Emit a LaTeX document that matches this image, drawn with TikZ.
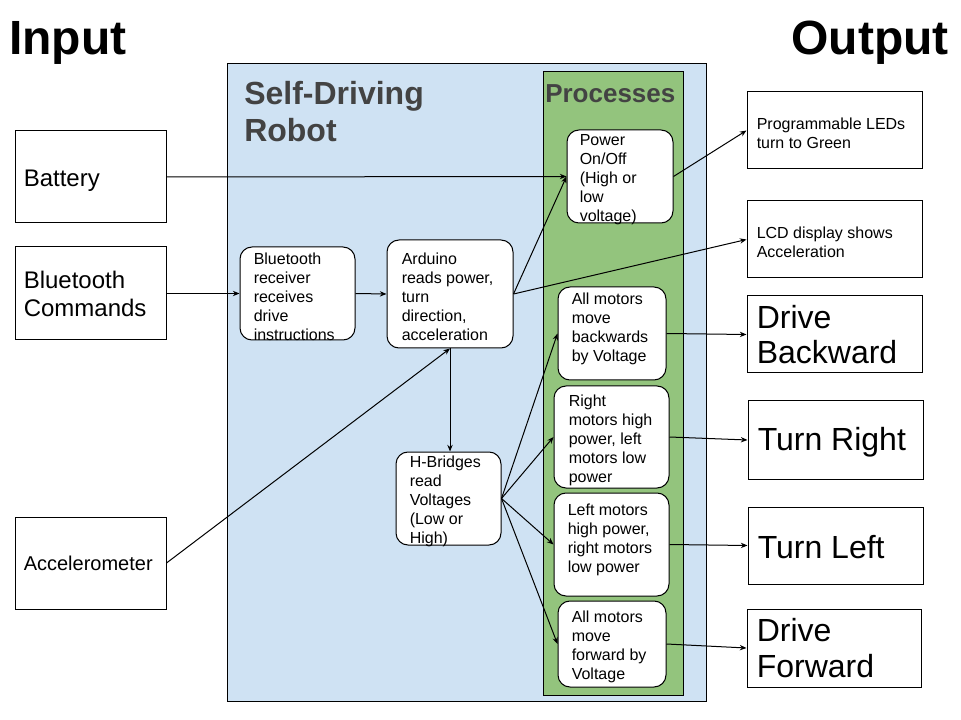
\documentclass[tikz,border=0pt]{standalone}
\usepackage{fontspec}
\setmainfont{Liberation Sans}
\usetikzlibrary{arrows.meta,fit}
\definecolor{robotblue}{HTML}{CFE2F3}
\definecolor{procgreen}{HTML}{93C47D}
\definecolor{headgray}{HTML}{434343}
\begin{document}
\begin{tikzpicture}[x=0.75pt,y=-0.75pt,
  sqbox/.style={draw=black, line width=0.75pt, fill=white, inner sep=0pt},
  rbox/.style={draw=black, line width=0.75pt, fill=white, inner sep=0pt, rounded corners=9pt},
  small/.style={anchor=west, align=left, inner sep=0pt, font=\fontsize{12}{14.25}\selectfont, yshift=-2.25pt},
  mid/.style={anchor=west, align=left, inner sep=0pt, font=\fontsize{18}{21}\selectfont},
  big/.style={anchor=west, align=left, inner sep=0pt, font=\fontsize{24}{26.5}\selectfont},
  arr/.style={line width=0.75pt, -{Stealth[length=5pt,width=4pt]}},
  head/.style={align=left, inner sep=0pt, font=\fontsize{24}{27.75}\selectfont\bfseries, text=headgray},
]
\useasboundingbox (0,0) rectangle (961,720);

% headings
\node[anchor=base west, inner sep=0pt, font=\fontsize{36}{40}\selectfont\bfseries] (inp) at (9,55) {Input};
\node[anchor=base east, inner sep=0pt, font=\fontsize{36}{40}\selectfont\bfseries] (outp) at (949,55) {Output};

% robot and processes regions
\node[draw=black, line width=0.75pt, fill=robotblue, inner sep=0pt, fit={(227,64)(706,701)}] (robot) {};
\node[draw=black, line width=0.75pt, fill=procgreen, inner sep=0pt, fit={(543,72)(683,695)}] (proc) {};
\node[head, anchor=north west] (title) at (244,81) {Self-Driving\\Robot};
\node[head, anchor=base west, font=\fontsize{19.5}{22}\selectfont\bfseries] (ptitle) at (545,103) {Processes};

% inputs
\node[sqbox, fit={(15,131)(166,223)}] (bat) {};
\node[mid, yshift=-2.5pt] at ([xshift=6.75pt]bat.west) {Battery};
\node[sqbox, fit={(15,247)(166,340)}] (btc) {};
\node[mid] at ([xshift=6.75pt]btc.west) {Bluetooth\\Commands};
\node[sqbox, fit={(15,517)(166,609)}] (acc) {};
\node[anchor=west, inner sep=0pt, font=\fontsize{15}{17}\selectfont] at ([xshift=6.75pt]acc.west) {Accelerometer};

% robot internals
\node[rbox, fit={(240,247)(355,340)}] (btr) {};
\node[small] at ([xshift=10.5pt]btr.west) {Bluetooth\\receiver\\receives\\drive\\instructions};
\node[rbox, fit={(387,240)(513,348)}] (ard) {};
\node[small] at ([xshift=11.25pt]ard.west) {Arduino\\reads power,\\turn\\direction,\\acceleration};
\node[rbox, fit={(396,452)(501,545)}] (hb) {};
\node[small] at ([xshift=10.5pt]hb.west) {H-Bridges\\read\\Voltages\\(Low or\\High)};

% processes
\node[rbox, fit={(567,130)(673,223)}] (pow) {};
\node[small] at ([xshift=9.75pt]pow.west) {Power\\On/Off\\(High or\\low\\voltage)};
\node[rbox, fit={(558,287)(666,380)}] (bk) {};
\node[small] at ([xshift=10.5pt,yshift=6pt]bk.west) {All motors\\move\\backwards\\by Voltage};
\node[rbox, fit={(554,386)(669,488)}] (rm) {};
\node[small] at ([xshift=11.25pt]rm.west) {Right\\motors high\\power, left\\motors low\\power};
\node[rbox, fit={(554,493)(669,596)}] (lm) {};
\node[small] at ([xshift=10.5pt,yshift=6pt]lm.west) {Left motors\\high power,\\right motors\\low power};
\node[rbox, fit={(558,601)(666,687)}] (fw) {};
\node[small] at ([xshift=10.5pt]fw.west) {All motors\\move\\forward by\\Voltage};

% outputs
\node[sqbox, fit={(747,92)(922,169)}] (led) {};
\node[small] at ([xshift=7.5pt]led.west) {Programmable LEDs\\turn to Green};
\node[sqbox, fit={(747,201)(922,278)}] (lcd) {};
\node[small] at ([xshift=7.5pt]lcd.west) {LCD display shows\\Acceleration};
\node[sqbox, fit={(747,296)(922,373)}] (dbk) {};
\node[big] at ([xshift=7.5pt]dbk.west) {Drive\\Backward};
\node[sqbox, fit={(748,401)(923,479)}] (tr) {};
\node[big, yshift=-2pt] at ([xshift=7.5pt]tr.west) {Turn Right};
\node[sqbox, fit={(748,507)(923,584)}] (tl) {};
\node[big, yshift=-1pt] at ([xshift=7.5pt]tl.west) {Turn Left};
\node[sqbox, fit={(747,609)(921,687)}] (df) {};
\node[big] at ([xshift=7.5pt]df.west) {Drive\\Forward};

% connectors
\draw[arr] (bat.east) -- (pow.west);
\draw[arr] (btc.east) -- (btr.west);
\draw[arr] (btr.east) -- (ard.west);
\draw[arr] (acc.east) -- (ard.south);
\draw[arr] (ard.south) -- (ard.south |- hb.north);
\draw[arr] (ard.east) -- (pow.west);
\draw[arr] (ard.east) -- (lcd.west);
\draw[arr] (hb.east) -- (bk.west);
\draw[arr] (hb.east) -- (rm.west);
\draw[arr] (hb.east) -- (lm.west);
\draw[arr] (hb.east) -- (fw.west);
\draw[arr] (pow.east) -- (led.west);
\draw[arr] (bk.east) -- (dbk.west);
\draw[arr] (rm.east) -- (tr.west);
\draw[arr] (lm.east) -- (tl.west);
\draw[arr] (fw.east) -- (df.west);
\end{tikzpicture}
\end{document}
